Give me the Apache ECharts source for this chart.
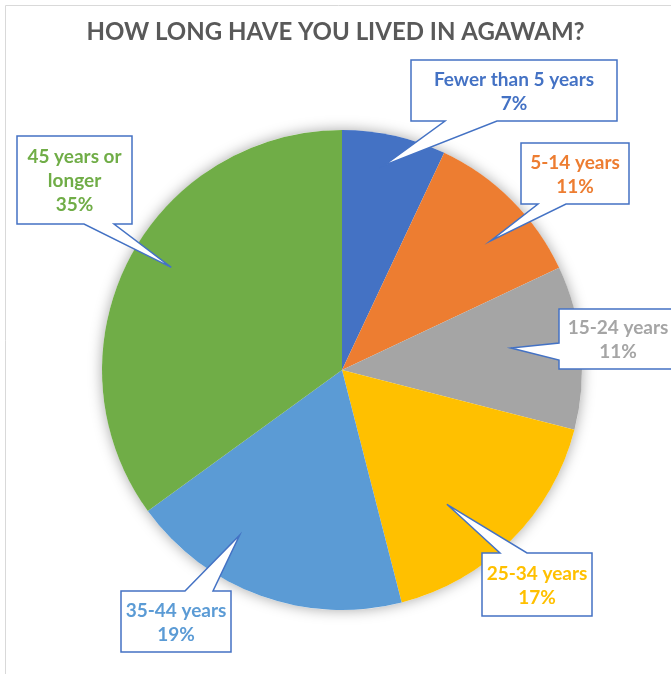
<!DOCTYPE html>
<html>
<head>
<meta charset="utf-8">
<script src="https://cdn.jsdelivr.net/npm/echarts@6/dist/echarts.min.js"></script>
<style>
  html, body { margin: 0; padding: 0; background: #fff; }
  #main { width: 671px; height: 674px; }
</style>
</head>
<body>
<div id="main"></div>
<script>
// data (percent of respondents)
var categories = ['Fewer than 5 years', '5-14 years', '15-24 years', '25-34 years', '35-44 years', '45 years or\nlonger'];
var values = [7, 11, 11, 17, 19, 35];
var colors = ['#4472C4', '#ED7D31', '#A5A5A5', '#FFC000', '#5B9BD5', '#70AD47'];

// pie layout
var cx = 342, cy = 370, R = 240;

// callout boxes: [x0, y0, x1, y1, side, base0, base1]
var boxes = [
  [411, 60, 617, 121, 'bottom', 445, 497],
  [521, 143, 629, 204, 'bottom', 538, 566],
  [559, 309, 677, 369, 'left', 343, 360],
  [482, 553, 592, 616, 'top', 500, 527],
  [121, 591, 231, 652, 'top', 185, 213],
  [17, 136, 132, 224, 'bottom', 84, 114]
];
// where the pointer lands inside each slice (angle nudge in deg, fraction of radius)
var tipAngleNudge = [-1, 4, -2, 7, 12, 4];
var tipRadius = [0.87, 0.82, 0.71, 0.71, 0.81, 0.83];

var total = values.reduce(function (a, b) { return a + b; }, 0);
var graphics = [{
  type: 'rect',
  shape: { x: 5.5, y: 5.5, width: 720, height: 720 },
  style: { fill: null, stroke: '#d9d9d9', lineWidth: 1 },
  z: 0
}];

var cum = 0;
values.forEach(function (v, i) {
  var mid = (cum + v / 2) / total * 360 + tipAngleNudge[i];
  cum += v;
  var a = mid * Math.PI / 180;
  var tip = [cx + R * tipRadius[i] * Math.sin(a), cy - R * tipRadius[i] * Math.cos(a)];
  var b = boxes[i];
  var x0 = b[0], y0 = b[1], x1 = b[2], y1 = b[3];
  var pts;
  if (b[4] === 'bottom') {
    pts = [[x0, y0], [x1, y0], [x1, y1], [b[6], y1], tip, [b[5], y1], [x0, y1]];
  } else if (b[4] === 'top') {
    pts = [[x0, y0], [b[5], y0], tip, [b[6], y0], [x1, y0], [x1, y1], [x0, y1]];
  } else {
    pts = [[x0, y0], [x1, y0], [x1, y1], [x0, y1], [x0, b[6]], tip, [x0, b[5]]];
  }
  graphics.push({
    type: 'polygon',
    shape: { points: pts },
    style: { fill: '#fff', stroke: '#4472C4', lineWidth: 1.5 },
    z: 100
  });
  graphics.push({
    type: 'text',
    x: (x0 + x1) / 2,
    y: (y0 + y1) / 2 + 1,
    style: {
      text: categories[i] + '\n' + v + '%',
      fill: colors[i],
      font: 'bold 19px Lato, sans-serif',
      lineHeight: 24,
      textAlign: 'center',
      textVerticalAlign: 'middle'
    },
    z: 101
  });
});

var chart = echarts.init(document.getElementById('main'));
chart.setOption({
  animation: false,
  title: {
    text: 'HOW LONG HAVE YOU LIVED IN AGAWAM?',
    left: 'center',
    top: 15,
    textStyle: { color: '#595959', fontSize: 24, fontWeight: 'bold', fontFamily: 'Lato' }
  },
  series: [
    {
      // soft shadow under the whole pie
      type: 'pie',
      center: [cx, cy],
      radius: R,
      silent: true,
      z: 1,
      label: { show: false },
      itemStyle: { color: '#fff', shadowBlur: 14, shadowColor: 'rgba(0,0,0,0.35)' },
      data: [{ value: 1 }]
    },
    {
      type: 'pie',
      center: [cx, cy],
      radius: R,
      startAngle: 90,
      clockwise: true,
      z: 2,
      label: { show: false },
      labelLine: { show: false },
      itemStyle: { borderWidth: 0 },
      data: categories.map(function (c, i) {
        return { name: c, value: values[i], itemStyle: { color: colors[i] } };
      })
    }
  ],
  graphic: graphics
});
</script>
</body>
</html>
